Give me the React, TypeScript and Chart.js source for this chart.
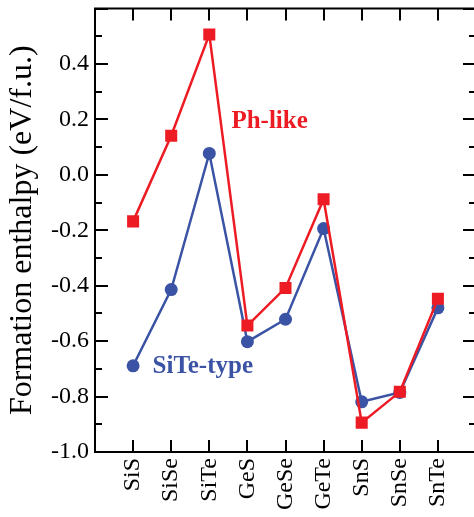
import React, { useEffect, useRef } from "react";
import { Chart, registerables } from "chart.js";

Chart.register(...registerables);

const categories = ["SiS", "SiSe", "SiTe", "GeS", "GeSe", "GeTe", "SnS", "SnSe", "SnTe"];
const phLike = [-0.168, 0.141, 0.506, -0.544, -0.408, -0.088, -0.894, -0.783, -0.447];
const siteType = [-0.689, -0.414, 0.077, -0.602, -0.521, -0.194, -0.819, -0.785, -0.48];
const yMajorTicks = [-1.0, -0.8, -0.6, -0.4, -0.2, 0.0, 0.2, 0.4, 0.6];
const yMinorTicks = [-0.9, -0.7, -0.5, -0.3, -0.1, 0.1, 0.3, 0.5];

const RED = "#ED1C24";
const BLUE = "#3A53A5";
const SERIF = "'Liberation Serif', 'Times New Roman', serif";
const PLOT_RIGHT = 476;

const annotations = [
  { text: "Ph-like", x: 2.58, y: 0.169, color: RED },
  { text: "SiTe-type", x: 0.51, y: -0.716, color: BLUE },
];

const zeroPadding = (scale: any) => {
  scale.paddingTop = 0;
  scale.paddingBottom = 0;
  scale.paddingLeft = 0;
  scale.paddingRight = 0;
};

const framePlugin = {
  id: "frame",
  afterLayout(chart: any) {
    const xs = chart.scales.x;
    chart.chartArea.right = PLOT_RIGHT;
    chart.chartArea.width = PLOT_RIGHT - chart.chartArea.left;
    xs.right = PLOT_RIGHT;
    xs.width = PLOT_RIGHT - xs.left;
    xs.configure();
  },
  afterDatasetsDraw(chart: any) {
    const { ctx, chartArea, scales } = chart;
    const { left, right, top, bottom } = chartArea;
    const xs = scales.x;
    const ys = scales.y;
    ctx.save();
    ctx.strokeStyle = "#000";
    ctx.lineWidth = 2;
    ctx.beginPath();
    ctx.rect(left, top, right - left, bottom - top);
    ctx.stroke();
    ctx.beginPath();
    for (const v of yMajorTicks) {
      const p = Math.round(ys.getPixelForValue(v));
      ctx.moveTo(left, p);
      ctx.lineTo(left + 13, p);
      ctx.moveTo(right, p);
      ctx.lineTo(right - 13, p);
    }
    for (const v of yMinorTicks) {
      const p = Math.round(ys.getPixelForValue(v));
      ctx.moveTo(left, p);
      ctx.lineTo(left + 7, p);
      ctx.moveTo(right, p);
      ctx.lineTo(right - 7, p);
    }
    categories.forEach((_, i) => {
      const p = Math.round(xs.getPixelForValue(i));
      ctx.moveTo(p, bottom);
      ctx.lineTo(p, bottom - 12);
      ctx.moveTo(p, top);
      ctx.lineTo(p, top + 12);
    });
    ctx.stroke();

    ctx.font = `bold 25px ${SERIF}`;
    ctx.textBaseline = "alphabetic";
    ctx.textAlign = "left";
    for (const a of annotations) {
      ctx.fillStyle = a.color;
      ctx.fillText(a.text, xs.getPixelForValue(a.x), ys.getPixelForValue(a.y));
    }
    ctx.restore();
  },
};

export default function App() {
  const ref = useRef<HTMLCanvasElement | null>(null);

  useEffect(() => {
    const canvas = ref.current;
    if (!canvas) return;
    const chart = new Chart(canvas, {
      type: "line",
      data: {
        datasets: [
          {
            label: "Ph-like",
            data: phLike.map((y, i) => ({ x: i, y })),
            borderColor: RED,
            backgroundColor: RED,
            borderWidth: 2.5,
            pointStyle: "rect",
            pointRadius: 8.5,
            pointBorderWidth: 0,
            order: 0,
          },
          {
            label: "SiTe-type",
            data: siteType.map((y, i) => ({ x: i, y })),
            borderColor: BLUE,
            backgroundColor: BLUE,
            borderWidth: 2.5,
            pointStyle: "circle",
            pointRadius: 6.5,
            pointBorderWidth: 0,
            order: 1,
          },
        ],
      },
      options: {
        responsive: false,
        animation: false,
        layout: { padding: { top: 7, right: 0, left: 0, bottom: 0 } },
        plugins: {
          legend: { display: false },
          tooltip: { enabled: false },
        },
        scales: {
          x: {
            type: "linear",
            min: -1,
            max: 9,
            grid: { display: false, drawTicks: false },
            border: { display: false },
            afterBuildTicks: (scale: any) => {
              scale.ticks = categories.map((_, i) => ({ value: i }));
            },
            afterFit: (scale: any) => {
              scale.height = 65;
              zeroPadding(scale);
            },
            ticks: {
              autoSkip: false,
              minRotation: 90,
              maxRotation: 90,
              padding: 6,
              color: "#000",
              font: { family: SERIF, size: 24 },
              callback: (v: any) => categories[Number(v)] ?? "",
            },
          },
          y: {
            type: "linear",
            min: -1,
            max: 0.6,
            grid: { display: false, drawTicks: false },
            border: { display: false },
            afterBuildTicks: (scale: any) => {
              scale.ticks = yMajorTicks.map((v) => ({ value: v }));
            },
            afterFit: (scale: any) => {
              scale.width = 95;
              zeroPadding(scale);
            },
            ticks: {
              padding: 6,
              color: "#000",
              font: { family: SERIF, size: 24 },
              callback: (v: any) => {
                const n = Number(v);
                if (Math.abs(n - 0.6) < 1e-6) return "";
                return (Math.abs(n) < 1e-9 ? 0 : n).toFixed(1);
              },
            },
            title: {
              display: true,
              text: "Formation enthalpy (eV/f.u.)",
              color: "#000",
              font: { family: SERIF, size: 32 },
              padding: { top: 3, bottom: 0 },
            },
          },
        },
      },
      plugins: [framePlugin],
    });
    return () => chart.destroy();
  }, []);

  return (
    <div style={{ position: "fixed", left: 0, top: 0, width: 474, height: 517, background: "#fff" }}>
      <canvas ref={ref} width={474} height={517} />
    </div>
  );
}
